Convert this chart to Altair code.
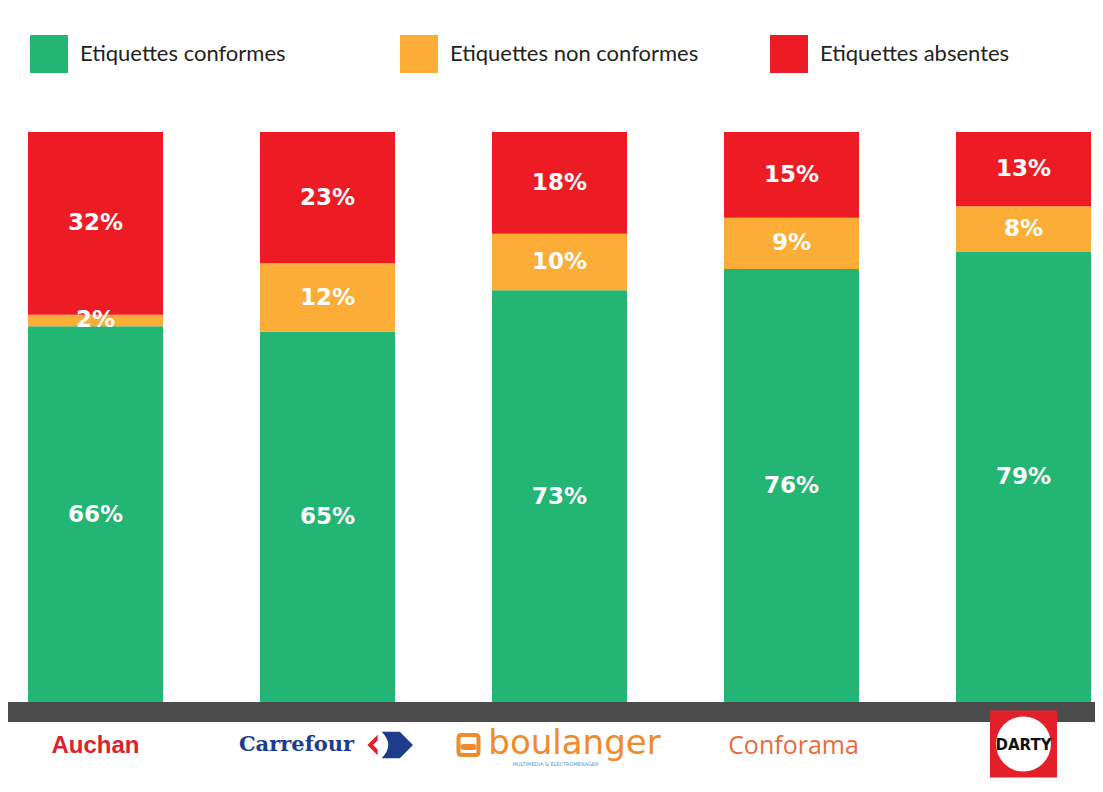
import altair as alt
import pandas as pd

# ---------------- data ----------------
companies = ["Auchan", "Carrefour", "Boulanger", "Conforama", "Darty"]
categories = ["Etiquettes conformes", "Etiquettes non conformes", "Etiquettes absentes"]
conformes = [66, 65, 73, 76, 79]
non_conformes = [2, 12, 10, 9, 8]
absentes = [32, 23, 18, 15, 13]
logo_names = ["Auchan", "Carrefour", "boulanger", "Conforama", "DARTY"]

colors = ["#22b573", "#fbad37", "#ed1c24"]

rows = []
for i, c in enumerate(companies):
    for j, (cat, vals) in enumerate(zip(categories, [conformes, non_conformes, absentes])):
        rows.append({"company": c, "category": cat, "order": j, "value": vals[i]})
df = pd.DataFrame(rows)
logo_df = pd.DataFrame({"company": companies, "logo": logo_names})
one = pd.DataFrame({"k": [0]})

W, H = 1087, 770
xscale = alt.Scale(paddingInner=0.418, paddingOuter=0.0517, align=0.833)
yscale = alt.Scale(domain=[0, 1], range=[695, 124])
X = alt.X("company:N", scale=xscale, axis=None, sort=companies)

base = alt.Chart(df).transform_stack(
    stack="value", as_=["y0", "y1"], groupby=["company"],
    sort=[alt.SortField("order", order="ascending")], offset="normalize"
).transform_calculate(mid="(datum.y0 + datum.y1) / 2", label="datum.value + '%'")

legend = alt.Legend(
    orient="none", legendX=22, legendY=27, direction="horizontal", columns=3,
    gridAlign="all", columnPadding=71, title=None, symbolType="square",
    symbolSize=1444, symbolStrokeWidth=0, symbolOpacity=1,
    labelFont="Lato, sans-serif", labelFontSize=22,
    labelColor="#231f20", labelOffset=12, padding=0, labelLimit=400,
)

bars = base.mark_bar().encode(
    x=X,
    y=alt.Y("y0:Q", scale=yscale, axis=None),
    y2="y1:Q",
    color=alt.Color("category:N", scale=alt.Scale(domain=categories, range=colors), legend=legend),
)

pct = base.mark_text(color="white", font="DejaVu Sans", fontWeight="bold", fontSize=23).encode(
    x=X, y=alt.Y("mid:Q", scale=yscale, axis=None), text="label:N"
)

band = alt.Chart(one).mark_rect(color="#4b4b4b").encode(
    x=alt.value(0), x2=alt.value(W), y=alt.value(694), y2=alt.value(714)
)


def logo(name):
    return alt.Chart(logo_df).transform_filter(alt.datum.company == name)


auchan = logo("Auchan").mark_text(
    color="#d9232d", font="Liberation Sans", fontWeight="bold", fontSize=24
).encode(x=X, y=alt.value(738), text="logo:N")

carrefour_txt = logo("Carrefour").mark_text(
    color="#1e3c8c", font="DejaVu Serif", fontWeight="bold", fontSize=21, dx=-31
).encode(x=X, y=alt.value(737), text="logo:N")
carrefour_red = logo("Carrefour").mark_point(
    shape="M 0.5 -1 L -0.5 0 L 0.5 1 L 0.5 0.45 L 0.05 0 L 0.5 -0.45 Z",
    filled=True, color="#e3202a", size=420, opacity=1, strokeWidth=0, xOffset=45
).encode(x=X, y=alt.value(737))
carrefour_blue = logo("Carrefour").mark_point(
    shape="M -0.9 -0.8 L 0.2 -0.8 L 1 0 L 0.2 0.8 L -0.9 0.8 Q -0.1 0 -0.9 -0.8 Z",
    filled=True, color="#1e3c8c", size=1089, opacity=1, strokeWidth=0, xOffset=69
).encode(x=X, y=alt.value(737))

boul_ring = logo("Boulanger").mark_point(
    shape="M -0.7 -1 L 0.7 -1 Q 1 -1 1 -0.7 L 1 0.7 Q 1 1 0.7 1 L -0.7 1 Q -1 1 -1 0.7 L -1 -0.7 Q -1 -1 -0.7 -1 Z",
    filled=False, color="#f28a2a", size=400, opacity=1, strokeWidth=4, xOffset=-91
).encode(x=X, y=alt.value(737))
boul_pill = logo("Boulanger").mark_point(
    shape="M -0.5 -0.3 L 0.5 -0.3 Q 0.8 -0.3 0.8 0 Q 0.8 0.3 0.5 0.3 L -0.5 0.3 Q -0.8 0.3 -0.8 0 Q -0.8 -0.3 -0.5 -0.3 Z",
    filled=True, color="#f28a2a", size=400, opacity=1, strokeWidth=0, xOffset=-91, yOffset=2
).encode(x=X, y=alt.value(737))
boul_txt = logo("Boulanger").mark_text(
    color="#f28a2a", font="DejaVu Sans", fontSize=34, baseline="alphabetic", dx=15
).encode(x=X, y=alt.value(746), text="logo:N")
boul_tag = logo("Boulanger").mark_text(
    color="#4a9bd6", font="DejaVu Sans", fontSize=5, dx=-4
).encode(x=X, y=alt.value(756), text=alt.value("MULTIMÉDIA & ÉLECTROMÉNAGER"))

conforama = logo("Conforama").mark_text(
    color="#ec6a3d", font="Open Sans", fontSize=25, dx=2
).encode(x=X, y=alt.value(738), text="logo:N")

darty_sq = logo("Darty").mark_point(
    shape="square", filled=True, color="#e3202a", size=4489, opacity=1, strokeWidth=0
).encode(x=X, y=alt.value(736))
darty_circ = logo("Darty").mark_point(
    shape="circle", filled=True, color="white", size=3019, opacity=1, strokeWidth=0
).encode(x=X, y=alt.value(736))
darty_txt = logo("Darty").mark_text(
    color="#111111", font="DejaVu Sans", fontWeight="bold", fontSize=15
).encode(x=X, y=alt.value(737), text="logo:N")

chart = alt.layer(
    bars, band, pct, auchan, carrefour_txt, carrefour_red, carrefour_blue,
    boul_ring, boul_pill, boul_txt, boul_tag, conforama, darty_sq, darty_circ, darty_txt
).properties(
    width=W, height=H, autosize=alt.AutoSizeParams(type="none"), padding=0
).configure_view(strokeWidth=0)

chart.save("out.html", embed_options={"renderer": "svg", "actions": False})
